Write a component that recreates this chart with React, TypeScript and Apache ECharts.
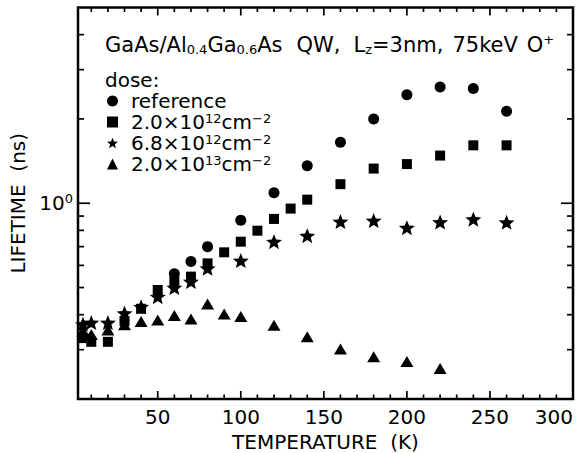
import React, { useEffect, useRef } from "react";
import * as echarts from "echarts";

const FONT = "DejaVu Sans";

const X_MIN = 2;
const X_MAX = 300;
const Y_MIN = 0.2;
const Y_MAX = 5;

const xLabelValues = [50, 100, 150, 200, 250, 300];
const xMajorTicks = [50, 100, 150, 200, 250, 300];
const xMinorTicks = [10, 20, 30, 40, 60, 70, 80, 90, 110, 120, 130, 140, 160, 170, 180, 190, 210, 220, 230, 240, 260, 270, 280, 290];
const yMajorTicks = [1];
const yMinorTicks = [0.3, 0.4, 0.5, 0.6, 0.7, 0.8, 0.9, 2, 3, 4];

const refT = [60, 70, 80, 100, 120, 140, 160, 180, 200, 220, 240, 260];
const refV = [0.56, 0.62, 0.70, 0.87, 1.09, 1.36, 1.65, 2.0, 2.44, 2.6, 2.57, 2.13];

const d1T = [5, 10, 20, 30, 40, 50, 60, 70, 80, 90, 100, 110, 120, 130, 140, 160, 180, 200, 220, 240, 260];
const d1V = [0.33, 0.32, 0.32, 0.38, 0.42, 0.49, 0.525, 0.547, 0.61, 0.668, 0.729, 0.798, 0.879, 0.957, 1.03, 1.17, 1.33, 1.38, 1.48, 1.61, 1.61];

const d2T = [5, 10, 20, 30, 40, 50, 60, 70, 80, 100, 120, 140, 160, 180, 200, 220, 240, 260];
const d2V = [0.37, 0.375, 0.375, 0.405, 0.427, 0.464, 0.5, 0.525, 0.586, 0.624, 0.729, 0.766, 0.86, 0.867, 0.818, 0.857, 0.877, 0.855];

const d3T = [5, 10, 20, 30, 40, 50, 60, 70, 80, 90, 100, 120, 140, 160, 180, 200, 220];
const d3V = [0.35, 0.34, 0.353, 0.368, 0.378, 0.383, 0.397, 0.386, 0.437, 0.402, 0.394, 0.367, 0.334, 0.302, 0.283, 0.272, 0.257];

const seriesNames = ["reference", "dose1", "dose2", "dose3"];
const legendLabels: Record<string, string> = {
  reference: "{g|}reference",
  dose1: "{g|}2.0×10{sup|12}cm{sup|−2}",
  dose2: "{g|}6.8×10{sup|12}cm{sup|−2}",
  dose3: "{g|}2.0×10{sup|13}cm{sup|−2}",
};

const titleText = "GaAs/Al{sub|0.4}Ga{sub|0.6}As{sp1|}QW,{sp2|}L{sub|z}=3nm,{sp3|}75keV{sp4|}O{sup|+}";

const STAR = "path://M12,0 L15.1,7.8 L23.4,8.3 L17,13.6 L19.1,21.7 L12,17.2 L4.9,21.7 L7,13.6 L0.6,8.3 L8.9,7.8 Z";

const pair = (t: number[], v: number[]) => t.map((x, i) => [x, v[i]]);

const TW = 1.7;

// a tick drawn as a thin rect symbol anchored on the frame edge, pointing inward
function tickSeries(data: number[][], w: number, h: number, dx: number, dy: number) {
  return {
    type: "scatter",
    silent: true,
    clip: false,
    z: 5,
    symbol: "rect",
    symbolSize: [w, h],
    symbolOffset: [dx, dy],
    itemStyle: { color: "#000", opacity: 1 },
    data,
  };
}

export default function App() {
  const ref = useRef<HTMLDivElement>(null);
  useEffect(() => {
    if (!ref.current) return;
    const chart = echarts.init(ref.current, undefined, { renderer: "svg" });

    const supStyle = { fontSize: 13, fontFamily: FONT, color: "#000", lineHeight: 11, padding: [0, 0, 7, 0] };

    const XM = 8, XN = 4.5, YM = 12, YN = 6;

    const option: any = {
      animation: false,
      backgroundColor: "#fff",
      textStyle: { fontFamily: FONT, color: "#000" },
      title: [
        {
          text: titleText,
          left: 105,
          top: 33,
          padding: 0,
          textStyle: {
            fontFamily: FONT,
            fontSize: 21,
            fontWeight: "normal",
            color: "#000",
            rich: {
              sub: { fontSize: 13, fontFamily: FONT, color: "#000", padding: [10, 0, 0, 0] },
              sup: { fontSize: 13, fontFamily: FONT, color: "#000", padding: [0, 0, 10, 0] },
              sp1: { width: 14 },
              sp2: { width: 13 },
              sp3: { width: 9 },
              sp4: { width: 9 },
            },
          },
        },
        {
          text: "dose:",
          left: 105,
          top: 70,
          padding: 0,
          textStyle: { fontFamily: FONT, fontSize: 20, fontWeight: "normal", color: "#000" },
        },
      ],
      legend: {
        data: seriesNames,
        orient: "vertical",
        left: 107,
        top: 91,
        padding: 0,
        itemWidth: 11,
        itemHeight: 11,
        itemGap: 1,
        formatter: (name: string) => legendLabels[name],
        textStyle: {
          fontFamily: FONT,
          fontSize: 20,
          lineHeight: 20,
          color: "#000",
          rich: {
            g: { width: 8 },
            sup: supStyle,
          },
        },
      },
      grid: {
        left: 78,
        right: 6,
        top: 7.5,
        bottom: 54,
        show: true,
        borderColor: "#000",
        borderWidth: 2.5,
        backgroundColor: "transparent",
        outerBoundsMode: "none",
      },
      xAxis: {
        type: "value",
        position: "bottom",
        min: X_MIN,
        max: X_MAX,
        name: "TEMPERATURE  (K)",
        nameLocation: "middle",
        nameGap: 27,
        nameTextStyle: { fontFamily: FONT, fontSize: 20, color: "#000" },
        axisLine: { show: false, onZero: false },
        axisTick: { show: false },
        splitLine: { show: false },
        axisLabel: {
          customValues: xLabelValues,
          fontFamily: FONT,
          fontSize: 20,
          color: "#000",
          margin: 8,
          alignMaxLabel: "right",
        },
      },
      yAxis: {
        type: "log",
        logBase: 10,
        position: "left",
        min: Y_MIN,
        max: Y_MAX,
        name: "LIFETIME  (ns)",
        nameLocation: "middle",
        nameGap: 48,
        nameTextStyle: { fontFamily: FONT, fontSize: 20, color: "#000" },
        axisLine: { show: false, onZero: false },
        axisTick: { show: false },
        splitLine: { show: false },
        axisLabel: {
          fontFamily: FONT,
          fontSize: 20,
          color: "#000",
          margin: 5,
          showMinLabel: false,
          showMaxLabel: false,
          formatter: (v: number) => (Math.abs(v - 1) < 1e-6 ? "10{sup|0}" : ""),
          rich: {
            sup: { fontSize: 13, fontFamily: FONT, color: "#000", padding: [0, 0, 10, 0] },
          },
        },
      },
      series: [
        {
          name: "reference",
          type: "scatter",
          symbol: "circle",
          symbolSize: 11,
          itemStyle: { color: "#000", opacity: 1 },
          data: pair(refT, refV),
        },
        {
          name: "dose1",
          type: "scatter",
          symbol: "rect",
          symbolSize: 10,
          itemStyle: { color: "#000", opacity: 1 },
          data: pair(d1T, d1V),
        },
        {
          name: "dose2",
          type: "scatter",
          symbol: STAR,
          symbolSize: [16, 15],
          itemStyle: { color: "#000", opacity: 1 },
          data: pair(d2T, d2V),
        },
        {
          name: "dose3",
          type: "scatter",
          symbol: "triangle",
          symbolSize: [13, 11],
          itemStyle: { color: "#000", opacity: 1 },
          data: pair(d3T, d3V),
        },
        // frame ticks
        tickSeries(xMajorTicks.map((v) => [v, Y_MIN]), TW, XM, 0, -XM / 2),
        tickSeries(xMinorTicks.map((v) => [v, Y_MIN]), TW, XN, 0, -XN / 2),
        tickSeries(xMajorTicks.map((v) => [v, Y_MAX]), TW, XM, 0, XM / 2),
        tickSeries(xMinorTicks.map((v) => [v, Y_MAX]), TW, XN, 0, XN / 2),
        tickSeries(yMajorTicks.map((v) => [X_MIN, v]), YM, TW, YM / 2, 0),
        tickSeries(yMinorTicks.map((v) => [X_MIN, v]), YN, TW, YN / 2, 0),
        tickSeries(yMajorTicks.map((v) => [X_MAX, v]), YM, TW, -YM / 2, 0),
        tickSeries(yMinorTicks.map((v) => [X_MAX, v]), YN, TW, -YN / 2, 0),
      ],
    };

    chart.setOption(option);
    return () => chart.dispose();
  }, []);

  return (
    <div
      ref={ref}
      style={{ position: "absolute", left: 0, top: 0, width: 579, height: 453 }}
    />
  );
}
